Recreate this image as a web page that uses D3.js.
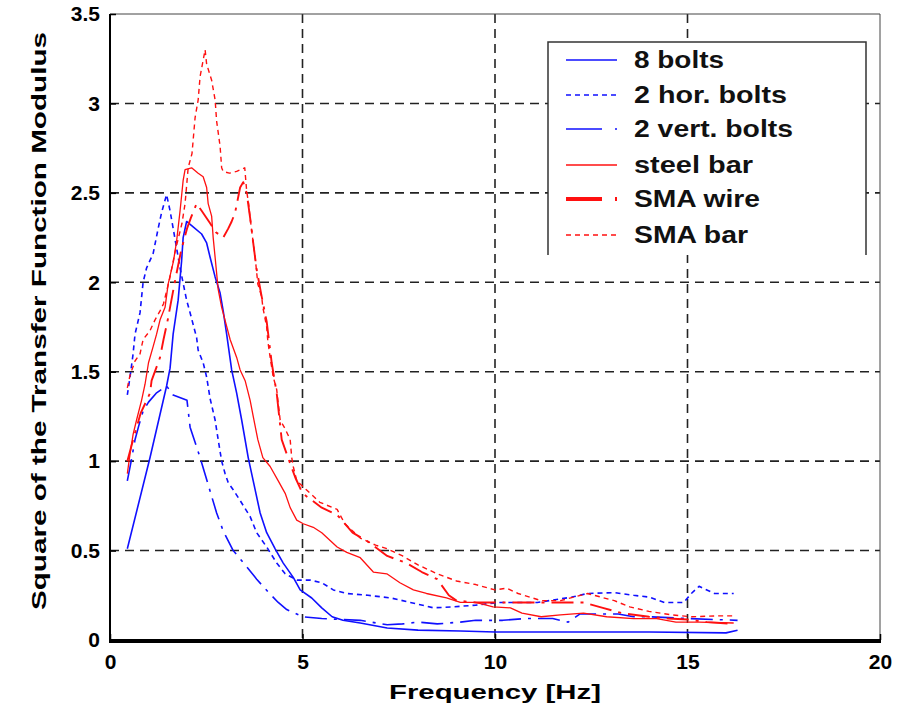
<!DOCTYPE html>
<html><head><meta charset="utf-8">
<script src="https://cdn.jsdelivr.net/npm/d3@7"></script>
<style>body{margin:0;background:#fff}svg{display:block}</style>
</head><body>
<svg id="c" width="915" height="712"></svg>
<script>
const xTicks = [0, 5, 10, 15, 20];
const yTicks = [0, 0.5, 1, 1.5, 2, 2.5, 3, 3.5];
const yTickLabels = ["0", "0.5", "1", "1.5", "2", "2.5", "3", "3.5"];
const seriesNames = ["8 bolts", "2 hor. bolts", "2 vert. bolts", "steel bar", "SMA wire", "SMA bar"];

const bolts8 = [[0.45,0.51],[1.04,1.02],[1.47,1.42],[1.56,1.52],[1.64,1.71],[1.77,1.9],[1.86,2.12],[1.9,2.25],[1.99,2.34],[2.16,2.31],[2.38,2.27],[2.51,2.22],[2.6,2.14],[2.73,2.03],[2.86,1.94],[2.94,1.84],[3.03,1.71],[3.16,1.51],[3.29,1.38],[3.42,1.23],[3.59,1.02],[3.72,0.89],[3.9,0.71],[4.07,0.6],[4.29,0.51],[4.5,0.43],[4.76,0.35],[4.94,0.28],[5.24,0.235],[5.5,0.18],[5.77,0.13],[6.05,0.11],[6.5,0.095],[7.2,0.067],[8.0,0.055],[9.1,0.05],[10,0.045],[12,0.045],[14,0.045],[16.0,0.04],[16.3,0.055]];
const horBolts2 = [[0.45,1.37],[0.52,1.47],[0.6,1.6],[0.65,1.71],[0.78,1.83],[0.86,2.0],[0.95,2.08],[1.12,2.16],[1.25,2.3],[1.34,2.39],[1.47,2.49],[1.56,2.4],[1.65,2.29],[1.69,2.24],[1.82,2.08],[1.99,1.9],[2.08,1.83],[2.25,1.69],[2.29,1.62],[2.42,1.55],[2.51,1.47],[2.6,1.35],[2.73,1.23],[2.81,1.12],[2.9,1.0],[2.99,0.93],[3.07,0.88],[3.2,0.84],[3.38,0.78],[3.64,0.69],[3.81,0.6],[4.07,0.52],[4.33,0.43],[4.55,0.37],[4.86,0.335],[5.2,0.335],[5.5,0.32],[5.8,0.28],[6.15,0.26],[6.7,0.25],[7.3,0.235],[7.8,0.21],[8.4,0.18],[8.9,0.185],[9.5,0.195],[10.1,0.21],[10.5,0.21],[11.1,0.21],[12.0,0.24],[12.4,0.26],[13.1,0.265],[13.6,0.25],[14.0,0.24],[14.4,0.21],[14.9,0.21],[15.1,0.26],[15.3,0.3],[15.7,0.26],[16.2,0.26]];
const vertBolts2 = [[0.45,0.89],[0.55,1.0],[0.65,1.12],[0.75,1.2],[0.86,1.28],[1.0,1.33],[1.2,1.38],[1.47,1.42],[1.64,1.37],[2.0,1.34],[2.08,1.19],[2.34,1.02],[2.52,0.89],[2.77,0.71],[2.94,0.61],[3.2,0.5],[3.55,0.41],[3.81,0.34],[4.1,0.27],[4.37,0.21],[4.59,0.17],[4.8,0.15],[5.0,0.13],[5.5,0.12],[6.5,0.11],[7.2,0.085],[7.6,0.09],[8.0,0.1],[8.5,0.09],[9.1,0.1],[9.5,0.11],[10.2,0.11],[10.8,0.12],[11.5,0.12],[11.9,0.1],[12.2,0.145],[13.2,0.145],[13.6,0.13],[14.0,0.13],[15.0,0.12],[16.3,0.11]];
const steelBar = [[0.45,0.93],[0.52,1.04],[0.6,1.15],[0.69,1.23],[0.82,1.34],[0.91,1.43],[1.0,1.55],[1.12,1.64],[1.21,1.71],[1.3,1.79],[1.43,1.86],[1.51,1.99],[1.65,2.12],[1.73,2.23],[1.82,2.4],[1.9,2.57],[1.95,2.63],[2.12,2.64],[2.29,2.61],[2.42,2.59],[2.51,2.53],[2.55,2.44],[2.64,2.37],[2.68,2.25],[2.73,2.14],[2.81,1.96],[2.9,1.86],[3.12,1.68],[3.29,1.58],[3.38,1.51],[3.51,1.45],[3.64,1.34],[3.72,1.25],[3.84,1.12],[3.97,1.02],[4.16,0.97],[4.37,0.89],[4.55,0.82],[4.68,0.74],[4.85,0.67],[5.02,0.65],[5.28,0.63],[5.5,0.6],[5.9,0.52],[6.15,0.49],[6.5,0.46],[6.84,0.38],[7.19,0.37],[7.53,0.32],[7.88,0.28],[8.22,0.26],[8.74,0.235],[9.1,0.21],[9.5,0.21],[9.95,0.185],[10.4,0.18],[10.7,0.15],[11.2,0.13],[11.7,0.14],[12.3,0.15],[12.9,0.13],[13.6,0.12],[14.2,0.12],[14.7,0.1],[15.3,0.1],[16.2,0.095]];
const smaWire = [[0.45,1.0],[0.6,1.12],[0.8,1.27],[1.04,1.38],[1.08,1.45],[1.3,1.58],[1.39,1.68],[1.5,1.79],[1.56,1.86],[1.7,2.02],[1.85,2.18],[2.0,2.3],[2.1,2.36],[2.25,2.44],[2.38,2.4],[2.6,2.33],[2.75,2.28],[2.94,2.25],[3.07,2.3],[3.16,2.34],[3.25,2.39],[3.38,2.53],[3.46,2.56],[3.55,2.5],[3.64,2.36],[3.72,2.22],[3.81,2.07],[3.94,1.92],[4.07,1.78],[4.2,1.55],[4.33,1.38],[4.46,1.12],[4.59,1.04],[4.81,0.91],[5.0,0.82],[5.5,0.74],[5.9,0.7],[6.3,0.6],[6.7,0.55],[7.2,0.47],[7.7,0.43],[8.1,0.38],[8.5,0.34],[8.8,0.25],[9.0,0.22],[9.5,0.21],[10.5,0.21],[11.3,0.21],[12.3,0.21],[12.8,0.18],[13.3,0.15],[14.0,0.13],[14.5,0.12],[15.0,0.115],[15.5,0.1],[16.2,0.09]];
const smaBar = [[0.45,1.41],[0.52,1.48],[0.65,1.56],[0.78,1.6],[0.86,1.68],[1.04,1.73],[1.17,1.79],[1.3,1.84],[1.39,1.88],[1.55,2.02],[1.7,2.18],[1.87,2.33],[1.95,2.44],[2.03,2.64],[2.13,2.72],[2.21,2.92],[2.29,3.02],[2.34,3.15],[2.47,3.3],[2.51,3.22],[2.64,3.13],[2.73,3.02],[2.77,2.9],[2.86,2.76],[2.9,2.64],[2.94,2.62],[3.1,2.61],[3.29,2.62],[3.5,2.64],[3.55,2.51],[3.6,2.44],[3.64,2.36],[3.72,2.22],[3.77,2.14],[3.84,1.99],[3.94,1.92],[3.97,1.86],[4.07,1.75],[4.1,1.67],[4.16,1.58],[4.24,1.47],[4.33,1.4],[4.37,1.32],[4.42,1.23],[4.55,1.18],[4.68,1.12],[4.72,1.02],[4.76,0.97],[4.85,0.89],[5.1,0.84],[5.45,0.77],[5.9,0.73],[6.1,0.65],[6.5,0.57],[6.9,0.53],[7.2,0.51],[7.6,0.47],[8.0,0.42],[8.5,0.37],[9.0,0.33],[9.5,0.31],[10.0,0.28],[10.3,0.29],[10.6,0.26],[11.2,0.22],[11.7,0.22],[12.4,0.26],[13.1,0.22],[13.5,0.185],[14.0,0.16],[14.6,0.14],[15.1,0.13],[15.8,0.135],[16.2,0.135]];

const seriesData = [bolts8, horBolts2, vertBolts2, steelBar, smaWire, smaBar];
const styles = [
  {color:"#1010ff", width:1.6, dash:null},
  {color:"#1010ff", width:1.6, dash:"5,4"},
  {color:"#1010ff", width:1.6, dash:"22,7,3,7"},
  {color:"#ff1010", width:1.3, dash:null},
  {color:"#ff1010", width:1.9, dash:"22,7,3,7"},
  {color:"#ff1010", width:1.4, dash:"5,4"}
];

const L = 110, R = 880, T = 14, B = 640;
const svg = d3.select("#c");
const x = d3.scaleLinear().domain([0, 20]).range([L, R]);
const y = d3.scaleLinear().domain([0, 3.5]).range([B, T]);
const font = "'Liberation Sans', Arial, sans-serif";

// grid
const grid = svg.append("g").attr("stroke", "#222").attr("stroke-width", 1.6).attr("stroke-dasharray", "9,6");
grid.selectAll(".gx").data(xTicks.filter(d => d > 0 && d < 20)).join("line")
  .attr("x1", d => x(d)).attr("x2", d => x(d)).attr("y1", T).attr("y2", B);
grid.selectAll(".gy").data(yTicks.filter(d => d > 0 && d < 3.5)).join("line")
  .attr("y1", d => y(d)).attr("y2", d => y(d)).attr("x1", L).attr("x2", R);

// lines
const line = d3.line().x(d => x(d[0])).y(d => y(d[1]));
svg.append("g").selectAll("path").data(seriesData).join("path")
  .attr("d", d => line(d))
  .attr("fill", "none")
  .attr("stroke", (d, i) => styles[i].color)
  .attr("stroke-width", (d, i) => styles[i].width)
  .attr("stroke-dasharray", (d, i) => styles[i].dash)
  .attr("stroke-linejoin", "round");

// legend
const lg = svg.append("g");
lg.append("rect").attr("x", 548).attr("y", 42).attr("width", 318).attr("height", 213).attr("fill", "#fff");
lg.append("path").attr("d", "M548,255V42H866V255").attr("fill", "none").attr("stroke", "#333").attr("stroke-width", 1.5);
const legY = [60, 95, 129, 165, 199, 235];
const legTextW = [90, 153, 159, 119, 126, 114];
seriesNames.forEach((n, i) => {
  lg.append("line").attr("x1", 566).attr("x2", 617).attr("y1", legY[i]).attr("y2", legY[i])
    .attr("stroke", styles[i].color).attr("stroke-width", i === 4 ? 4 : styles[i].width)
    .attr("stroke-dasharray", i === 2 || i === 4 ? "36,13,3,20" : styles[i].dash);
  lg.append("text").attr("x", 634).attr("y", legY[i] + 8).text(n)
    .attr("font-family", font).attr("font-size", 23).attr("font-weight", "bold").attr("fill", "#111")
    .attr("textLength", legTextW[i]).attr("lengthAdjust", "spacingAndGlyphs");
});

// frame
svg.append("path").attr("d", `M${L},${T}H${R}V${B}`).attr("fill", "none").attr("stroke", "#444").attr("stroke-width", 1);
svg.append("line").attr("x1", L).attr("x2", L).attr("y1", T).attr("y2", B + 2).attr("stroke", "#000").attr("stroke-width", 2);
svg.append("line").attr("x1", L - 1).attr("x2", R + 1).attr("y1", B + 1).attr("y2", B + 1).attr("stroke", "#000").attr("stroke-width", 4);

// axes
const xAxis = d3.axisBottom(x).tickValues(xTicks).tickSize(-6).tickPadding(14).tickFormat(d3.format("d"));
const gx = svg.append("g").attr("transform", `translate(0,${B})`).call(xAxis);
const yAxis = d3.axisLeft(y).tickValues(yTicks).tickSize(-6).tickPadding(10).tickFormat((d, i) => yTickLabels[i]);
const gy = svg.append("g").attr("transform", `translate(${L},0)`).call(yAxis);
[gx, gy].forEach(g => {
  g.select(".domain").remove();
  g.selectAll(".tick line").attr("stroke", "#000").attr("stroke-width", 1.5);
  g.selectAll(".tick text").attr("font-family", font).attr("font-size", 21).attr("font-weight", "bold").attr("fill", "#000");
});

svg.append("text").attr("x", 495).attr("y", 699).attr("text-anchor", "middle").text("Frequency [Hz]")
  .attr("font-family", font).attr("font-size", 21).attr("font-weight", "bold").attr("fill", "#000")
  .attr("textLength", 212).attr("lengthAdjust", "spacingAndGlyphs");
svg.append("text").attr("transform", "translate(46,321) rotate(-90)").attr("text-anchor", "middle")
  .text("Square of the Transfer Function Modulus")
  .attr("font-family", font).attr("font-size", 21).attr("font-weight", "bold").attr("fill", "#000")
  .attr("textLength", 578).attr("lengthAdjust", "spacingAndGlyphs");
</script>
</body></html>
